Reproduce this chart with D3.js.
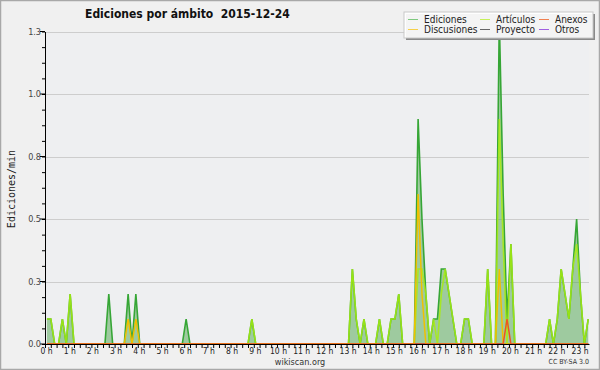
<!DOCTYPE html>
<html><head><meta charset="utf-8">
<script src="https://cdn.jsdelivr.net/npm/d3@7"></script>
<style>
html,body{margin:0;padding:0;background:#f0f0f0;}
svg{display:block;}
text{font-family:"DejaVu Sans Condensed","DejaVu Sans",sans-serif;font-stretch:condensed;}
</style></head><body>
<svg id="c" width="600" height="370"></svg>
<script>
// 10-minute bins from 00:00 to 23:20 (edits per minute)
const ediciones = [
  0.1,0.1,0,0,0.1,0,      // 0h
  0.2,0,0,0,0,0,          // 1h
  0,0,0,0,0.2,0,          // 2h
  0,0,0,0.2,0,0.2,        // 3h
  0,0,0,0,0,0,            // 4h
  0,0,0,0,0,0,            // 5h
  0.1,0,0,0,0,0,          // 6h
  0,0,0,0,0,0,            // 7h
  0,0,0,0,0,0.1,          // 8h
  0,0,0,0,0,0,            // 9h
  0,0,0,0,0,0,            // 10h
  0,0,0,0,0,0,            // 11h
  0,0,0,0,0,0,            // 12h
  0,0.3,0.1,0,0.1,0,      // 13h
  0,0,0.1,0,0,0.1,        // 14h
  0.1,0.2,0,0,0,0,        // 15h
  0.9,0.5,0.2,0,0.1,0.1,  // 16h
  0.3,0.3,0.2,0.1,0,0,    // 17h
  0.1,0.1,0,0,0,0,        // 18h
  0.3,0,0,1.3,0.6,0.1,    // 19h
  0.4,0,0,0,0,0,          // 20h
  0,0,0,0,0.1,0,          // 21h
  0.1,0.3,0.2,0.1,0.3,0.5,// 22h
  0.2,0,0.1               // 23h
];
const articulos = [
  0.1,0.1,0,0,0.1,0,      // 0h
  0.2,0,0,0,0,0,          // 1h
  0,0,0,0,0,0,            // 2h
  0,0,0,0,0,0,            // 3h
  0,0,0,0,0,0,            // 4h
  0,0,0,0,0,0,            // 5h
  0,0,0,0,0,0,            // 6h
  0,0,0,0,0,0,            // 7h
  0,0,0,0,0,0.1,          // 8h
  0,0,0,0,0,0,            // 9h
  0,0,0,0,0,0,            // 10h
  0,0,0,0,0,0,            // 11h
  0,0,0,0,0,0,            // 12h
  0,0.3,0.1,0,0.1,0,      // 13h
  0,0,0.1,0,0,0.1,        // 14h
  0.1,0.2,0,0,0,0,        // 15h
  0.3,0.3,0.2,0,0.1,0,    // 16h
  0.2,0.3,0.2,0.1,0,0,    // 17h
  0.1,0.1,0,0,0,0,        // 18h
  0.3,0,0,0.9,0.4,0,      // 19h
  0.4,0,0,0,0,0,          // 20h
  0,0,0,0,0.1,0,          // 21h
  0.1,0.3,0.2,0.1,0.3,0.4,// 22h
  0.2,0,0.1               // 23h
];
const discusiones = [
  0,0,0,0,0,0,            // 0h
  0,0,0,0,0,0,            // 1h
  0,0,0,0,0,0,            // 2h
  0,0,0,0.1,0,0.1,        // 3h
  0,0,0,0,0,0,            // 4h
  0,0,0,0,0,0,            // 5h
  0,0,0,0,0,0,            // 6h
  0,0,0,0,0,0,            // 7h
  0,0,0,0,0,0,            // 8h
  0,0,0,0,0,0,            // 9h
  0,0,0,0,0,0,            // 10h
  0,0,0,0,0,0,            // 11h
  0,0,0,0,0,0,            // 12h
  0,0,0,0,0,0,            // 13h
  0,0,0,0,0,0,            // 14h
  0,0,0,0,0,0,            // 15h
  0.6,0.2,0,0,0,0,        // 16h
  0,0,0,0,0,0,            // 17h
  0,0,0,0,0,0,            // 18h
  0,0,0,0.3,0,0,          // 19h
  0,0,0,0,0,0,            // 20h
  0,0,0,0,0,0,            // 21h
  0,0,0,0,0,0,            // 22h
  0,0,0                   // 23h
];
const anexos = [
  0,0,0,0,0,0,            // 0h
  0,0,0,0,0,0,            // 1h
  0,0,0,0,0,0,            // 2h
  0,0,0,0,0,0,            // 3h
  0,0,0,0,0,0,            // 4h
  0,0,0,0,0,0,            // 5h
  0,0,0,0,0,0,            // 6h
  0,0,0,0,0,0,            // 7h
  0,0,0,0,0,0,            // 8h
  0,0,0,0,0,0,            // 9h
  0,0,0,0,0,0,            // 10h
  0,0,0,0,0,0,            // 11h
  0,0,0,0,0,0,            // 12h
  0,0,0,0,0,0,            // 13h
  0,0,0,0,0,0,            // 14h
  0,0,0,0,0,0,            // 15h
  0,0,0,0,0,0,            // 16h
  0,0,0,0,0,0,            // 17h
  0,0,0,0,0,0,            // 18h
  0,0,0,0,0,0.1,          // 19h
  0,0,0,0,0,0,            // 20h
  0,0,0,0,0,0,            // 21h
  0,0,0,0,0,0,            // 22h
  0,0,0                   // 23h
];
const proyecto = [
  0,0,0,0,0,0, 0,0,0,0,0,0, 0,0,0,0,0,0, 0,0,0,0,0,0,
  0,0,0,0,0,0, 0,0,0,0,0,0, 0,0,0,0,0,0, 0,0,0,0,0,0,
  0,0,0,0,0,0, 0,0,0,0,0,0, 0,0,0,0,0,0, 0,0,0,0,0,0,
  0,0,0,0,0,0, 0,0,0,0,0,0, 0,0,0,0,0,0, 0,0,0,0,0,0,
  0,0,0,0,0,0, 0,0,0,0,0,0, 0,0,0,0,0,0, 0,0,0,0,0,0,
  0,0,0,0,0,0, 0,0,0,0,0,0, 0,0,0,0,0,0, 0,0,0
];
const otros = [
  0,0,0,0,0,0, 0,0,0,0,0,0, 0,0,0,0,0,0, 0,0,0,0,0,0,
  0,0,0,0,0,0, 0,0,0,0,0,0, 0,0,0,0,0,0, 0,0,0,0,0,0,
  0,0,0,0,0,0, 0,0,0,0,0,0, 0,0,0,0,0,0, 0,0,0,0,0,0,
  0,0,0,0,0,0, 0,0,0,0,0,0, 0,0,0,0,0,0, 0,0,0,0,0,0,
  0,0,0,0,0,0, 0,0,0,0,0,0, 0,0,0,0,0,0, 0,0,0,0,0,0,
  0,0,0,0,0,0, 0,0,0,0,0,0, 0,0,0,0,0,0, 0,0,0
];

const binMinutes = 10;
const hourLabels = ["0 h","1 h","2 h","3 h","4 h","5 h","6 h","7 h","8 h","9 h","10 h","11 h",
  "12 h","13 h","14 h","15 h","16 h","17 h","18 h","19 h","20 h","21 h","22 h","23 h"];
const yTickValues = [0,0.25,0.5,0.75,1.0,1.25];
const yTickLabels = ["0.0","0.3","0.5","0.8","1.0","1.3"];
const legendNames = ["Ediciones","Discusiones","Artículos","Proyecto","Anexos","Otros"];
const title = "Ediciones por ámbito  2015-12-24";

const colors = {
  "Ediciones":"#36a636","Artículos":"#a8ec10","Discusiones":"#f0c000",
  "Proyecto":"#555555","Anexos":"#ee5522","Otros":"#9955ee"
};
const legendColors = {
  "Ediciones":"#7fc97f","Artículos":"#c6f05a","Discusiones":"#f6d04a",
  "Proyecto":"#666666","Anexos":"#f08050","Otros":"#a060e0"
};

const svg = d3.select("#c");
svg.append("rect").attr("x",0.5).attr("y",0.5).attr("width",599).attr("height",369)
  .attr("fill","#f0f0f0").attr("stroke","#a8a8a8").attr("stroke-width",1.5);

const L=45, R=589, T=31.5, B=344;
const x = d3.scaleLinear().domain([0,1407]).range([L,R]);
const y = d3.scaleLinear().domain([0,1.25]).range([B,T]);
const xm = i => x(i*binMinutes + binMinutes/2);

svg.append("rect").attr("x",L).attr("y",T).attr("width",R-L).attr("height",B-T).attr("fill","#eeeff1");

// gridlines
svg.append("g").selectAll("line").data(yTickValues.slice(1)).join("line")
  .attr("x1",L).attr("x2",R).attr("y1",d=>Math.round(y(d))+0.5).attr("y2",d=>Math.round(y(d))+0.5)
  .attr("stroke","#cdcdcd").attr("stroke-width",1);

// area
const area = d3.area().x((d,i)=>xm(i)).y0(B).y1(d=>y(d));
svg.append("path").datum(ediciones).attr("d",area).attr("fill","#4da64d").attr("fill-opacity",0.5);

const line = d3.line().x((d,i)=>xm(i)).y(d=>y(d));
const draw = (arr,name,w,op) => svg.append("path").datum(arr).attr("d",line)
  .attr("fill","none").attr("stroke",colors[name]).attr("stroke-width",w).attr("stroke-opacity",op);
draw(otros,"Otros",1.5,1);
draw(proyecto,"Proyecto",1.5,1);
draw(ediciones,"Ediciones",1.6,1);
draw(articulos,"Artículos",1.6,0.85);
draw(discusiones,"Discusiones",1.5,1);
draw(anexos,"Anexos",1.5,1);

// axes
const quarterTicks = d3.range(0,1407,15);
const xAxis = svg.append("g").attr("transform",`translate(0,${B})`)
  .call(d3.axisBottom(x).tickValues(quarterTicks).tickSize(4).tickSizeOuter(0).tickFormat(""));
xAxis.select(".domain").attr("stroke","#000");
xAxis.selectAll(".tick line").attr("stroke","#000");
svg.append("g").selectAll("text").data(hourLabels).join("text")
  .attr("x",(d,i)=>x(i*60)+1.5).attr("y",353.5).attr("text-anchor","middle")
  .attr("font-size",8.5).attr("fill","#222").text(d=>d);

const minorY = d3.range(0,1.26,0.0625);
const yAxis = svg.append("g").attr("transform",`translate(${L},0)`)
  .call(d3.axisLeft(y).tickValues(minorY).tickSize(3).tickSizeOuter(0).tickFormat(""));
yAxis.select(".domain").attr("stroke","#000");
yAxis.selectAll(".tick line").attr("stroke","#000");
svg.append("g").selectAll("line").data(yTickValues).join("line")
  .attr("x1",L-5).attr("x2",L).attr("y1",d=>y(d)).attr("y2",d=>y(d)).attr("stroke","#000");
svg.append("g").selectAll("text").data(yTickValues).join("text")
  .attr("x",41).attr("y",d=>y(d)+3).attr("text-anchor","end")
  .attr("font-size",9).attr("fill","#444").text((d,i)=>yTickLabels[i]);

// titles
svg.append("text").attr("x",85).attr("y",18).attr("font-size",12).attr("font-weight","bold")
  .attr("fill","#111").style("white-space","pre").text(title);
svg.append("text").attr("transform","translate(15,189) rotate(-90)").attr("text-anchor","middle")
  .style("font-family","'DejaVu Sans Mono',monospace").attr("font-size",10).attr("fill","#222").text("Ediciones/min");
svg.append("text").attr("x",300).attr("y",364.5).attr("text-anchor","middle").attr("font-size",9)
  .attr("fill","#333").text("wikiscan.org");
svg.append("text").attr("x",589).attr("y",364).attr("text-anchor","end").attr("font-size",7)
  .attr("fill","#333").text("CC BY-SA 3.0");

// legend
const lg = svg.append("g");
lg.append("rect").attr("x",406).attr("y",14).attr("width",189).attr("height",26).attr("fill","#8a8a8a");
lg.append("rect").attr("x",404).attr("y",12).attr("width",189).attr("height",26)
  .attr("fill","#ffffff").attr("fill-opacity",0.9).attr("stroke","#c8c8c8");
const colX = [408,480,539], rowY = [19,29];
legendNames.forEach((n,k)=>{
  const cx = colX[Math.floor(k/2)], cy = rowY[k%2];
  lg.append("line").attr("x1",cx).attr("x2",cx+10).attr("y1",cy+0.5).attr("y2",cy+0.5)
    .attr("stroke",legendColors[n]).attr("stroke-width",1);
  lg.append("text").attr("x",cx+16).attr("y",cy+4).attr("font-size",10).attr("fill","#222").text(n);
});
</script>
</body></html>
